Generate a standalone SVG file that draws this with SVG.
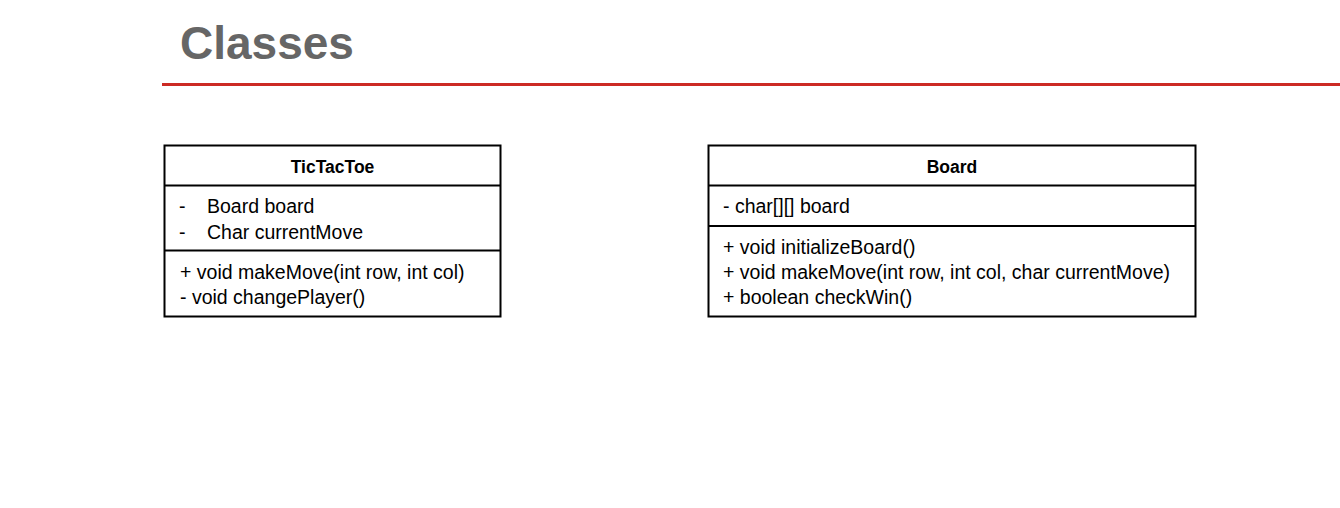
<svg xmlns="http://www.w3.org/2000/svg" width="1340" height="508" viewBox="0 0 1340 508">
<style>
.box{fill:#fff;stroke:#000;stroke-width:2}
.div{stroke:#000;stroke-width:2}
.t{font-family:"Liberation Sans",Arial,sans-serif;font-size:19.5px;fill:#000}
.h{font-family:"Liberation Sans",Arial,sans-serif;font-size:17.5px;font-weight:bold;fill:#000;text-anchor:middle}
</style>
<rect width="1340" height="508" fill="#fff"/>
<text x="180" y="59" font-family="'Liberation Sans',Arial,sans-serif" font-size="46" font-weight="bold" fill="#666666">Classes</text>
<line x1="162" y1="84.5" x2="1340" y2="84.5" stroke="#cc2a24" stroke-width="3"/>
<g id="TicTacToe">
<rect class="box" x="164.5" y="145.5" width="336" height="171"/>
<line class="div" x1="164.5" y1="185.5" x2="500.5" y2="185.5"/>
<line class="div" x1="164.5" y1="250.5" x2="500.5" y2="250.5"/>
<text class="h" x="332.5" y="173">TicTacToe</text>
<text class="t" x="179" y="213">-</text>
<text class="t" x="207" y="213">Board board</text>
<text class="t" x="179" y="239">-</text>
<text class="t" x="207" y="239">Char currentMove</text>
<text class="t" x="180" y="279">+ void makeMove(int row, int col)</text>
<text class="t" x="180" y="304">- void changePlayer()</text>
</g>
<g id="Board">
<rect class="box" x="708.5" y="145.5" width="487" height="171"/>
<line class="div" x1="708.5" y1="185.5" x2="1195.5" y2="185.5"/>
<line class="div" x1="708.5" y1="226" x2="1195.5" y2="226"/>
<text class="h" x="952" y="173">Board</text>
<text class="t" x="723" y="213">- char[][] board</text>
<text class="t" x="723" y="254">+ void initializeBoard()</text>
<text class="t" x="723" y="279">+ void makeMove(int row, int col, char currentMove)</text>
<text class="t" x="723" y="304">+ boolean checkWin()</text>
</g>
<g id="connectors"></g>
</svg>
